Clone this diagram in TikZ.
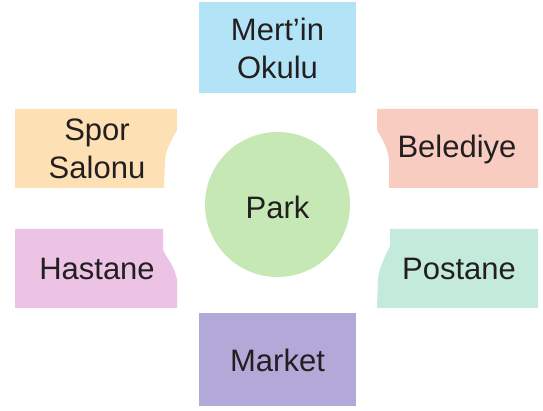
\documentclass[tikz,border=0pt]{standalone}
\usepackage{fontspec}
\setmainfont{Liberation Sans}
\definecolor{cblue}{HTML}{B3E3F6}
\definecolor{corange}{HTML}{FDE1B5}
\definecolor{cpink}{HTML}{F9CCC1}
\definecolor{cmag}{HTML}{ECC3E4}
\definecolor{cmint}{HTML}{C3EADB}
\definecolor{cviolet}{HTML}{B2A9D9}
\definecolor{cgreen}{HTML}{C5E8B5}
\definecolor{ctext}{HTML}{231F20}
\begin{document}
\begin{tikzpicture}[x=1pt,y=-1pt,
  lbl/.style={text=ctext,font=\fontsize{31}{38}\selectfont,align=center,inner sep=0pt}]
\useasboundingbox (0,0) rectangle (543,411);
% top and bottom boxes
\fill[cblue] (199,2) rectangle (356,93);
\fill[cviolet] (199,313) rectangle (356,406);
% left boxes
\fill[corange] (15,109) -- (177,109) -- (177,130) .. controls (171,141) and (166,149) .. (165,160) -- (164,188) -- (15,188) -- cycle;
\fill[cmag] (15,229) -- (163,229) -- (163,250) .. controls (168,260) and (175,267) .. (177,280) -- (177,308) -- (15,308) -- cycle;
% right boxes
\fill[cpink] (377,109) -- (538,109) -- (538,188) -- (389,188) -- (389,160) .. controls (388,149) and (383,140) .. (377,130) -- cycle;
\fill[cmint] (390,229) -- (538,229) -- (538,308) -- (377,308) -- (378,278) .. controls (380,266) and (385,256) .. (390,246) -- cycle;
% park
\fill[cgreen] (277.5,204.5) circle (72.5);
% labels
\node[lbl] (okul) at (277.5,48) {Mert’in\\Okulu};
\node[lbl] (market) at (277.5,360) {Market};
\node[lbl] (spor) at (97,149) {Spor\\Salonu};
\node[lbl] (hastane) at (97,269) {Hastane};
\node[lbl] (belediye) at (457,149) {Belediye};
\node[lbl] (postane) at (459,269) {Postane};
\node[lbl] (park) at (277.5,207) {Park};
\end{tikzpicture}
\end{document}
